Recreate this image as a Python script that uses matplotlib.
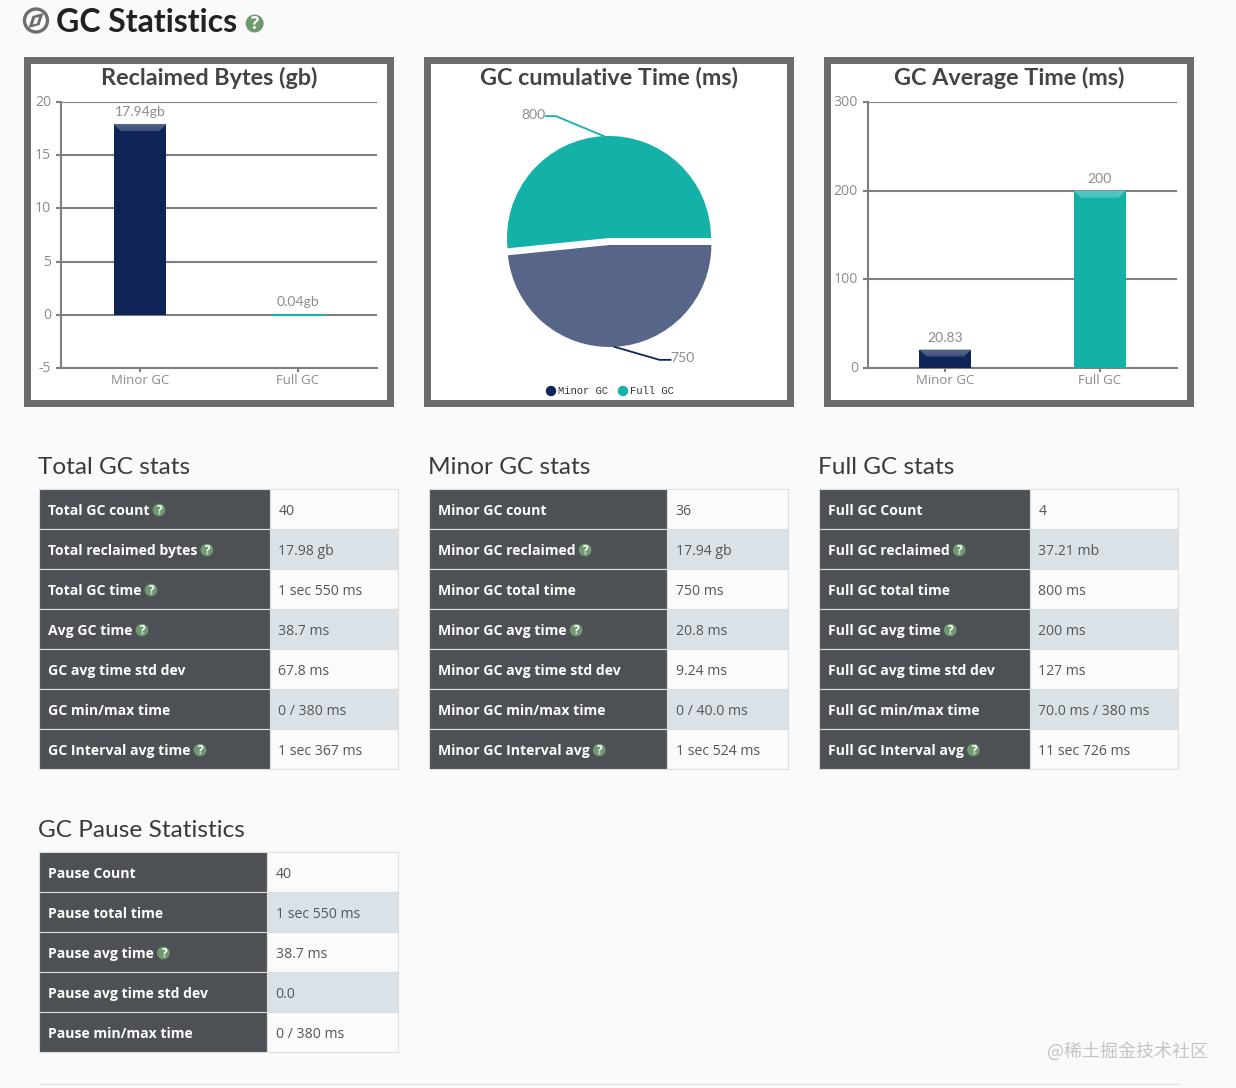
import matplotlib
matplotlib.use('Agg')
import matplotlib.pyplot as plt
from matplotlib.patches import Rectangle, Circle, Polygon
from matplotlib.transforms import ScaledTranslation
import numpy as np

plt.rcParams['axes.unicode_minus'] = False

W, H = 1236, 1088
BG = '#fafafa'
NAVY = '#0f2557'
TEAL = '#14b1a9'
SLATE = '#566588'
GRID = '#7f7f7f'
TICK_TXT = '#8a8a8a'
FRAME = '#6b6b6b'
DARK = '#4d5055'
BAND = '#dae2e8'
HELP = '#6f9a6f'

# bar charts
categories = ['Minor GC', 'Full GC']
reclaimed = [17.94, 0.04]
reclaimed_labels = ['17.94gb', '0.04gb']
reclaimed_ticks = [-5, 0, 5, 10, 15, 20]
avg_time = [20.83, 200]
avg_time_labels = ['20.83', '200']
avg_time_ticks = [0, 100, 200, 300]

# pie
pie_names = ['Full GC', 'Minor GC']
pie_values = [800, 750]

# tables
total_labels = ['Total GC count', 'Total reclaimed bytes', 'Total GC time', 'Avg GC time',
                'GC avg time std dev', 'GC min/max time', 'GC Interval avg time']
total_help = [1, 1, 1, 1, 0, 0, 1]
total_values = ['40', '17.98 gb', '1 sec 550 ms', '38.7 ms', '67.8 ms', '0 / 380 ms', '1 sec 367 ms']

minor_labels = ['Minor GC count', 'Minor GC reclaimed', 'Minor GC total time', 'Minor GC avg time',
                'Minor GC avg time std dev', 'Minor GC min/max time', 'Minor GC Interval avg']
minor_help = [0, 1, 0, 1, 0, 0, 1]
minor_values = ['36', '17.94 gb', '750 ms', '20.8 ms', '9.24 ms', '0 / 40.0 ms', '1 sec 524 ms']

full_labels = ['Full GC Count', 'Full GC reclaimed', 'Full GC total time', 'Full GC avg time',
               'Full GC avg time std dev', 'Full GC min/max time', 'Full GC Interval avg']
full_help = [0, 1, 0, 1, 0, 0, 1]
full_values = ['4', '37.21 mb', '800 ms', '200 ms', '127 ms', '70.0 ms / 380 ms', '11 sec 726 ms']

pause_labels = ['Pause Count', 'Pause total time', 'Pause avg time', 'Pause avg time std dev', 'Pause min/max time']
pause_help = [0, 0, 1, 0, 0]
pause_values = ['40', '1 sec 550 ms', '38.7 ms', '0.0', '0 / 380 ms']


def px(size):
    return size * 0.72


fig = plt.figure(figsize=(W / 100, H / 100), dpi=100, facecolor=BG)
renderer = fig.canvas.get_renderer()

# page layer in pixel coordinates
page = fig.add_axes([0, 0, 1, 1], zorder=0)
page.set_xlim(0, W)
page.set_ylim(H, 0)
page.axis('off')


def rect_axes(x0, y0, x1, y1):
    ax = fig.add_axes([x0 / W, 1 - y1 / H, (x1 - x0) / W, (y1 - y0) / H], zorder=1)
    ax.patch.set_alpha(0)
    return ax


def help_icon(x, y, r=6.3):
    page.add_patch(Circle((x, y), r, color=HELP, lw=0, zorder=5))
    page.text(x, y + 0.3, '?', color='white', fontsize=px(r * 1.9), fontweight='bold',
              family='Open Sans', ha='center', va='center', zorder=6)


def panel(x0, title, title_x):
    page.add_patch(Rectangle((x0, 57), 370, 350, fc=FRAME, lw=0))
    page.add_patch(Rectangle((x0 + 7, 64), 356, 336, fc='white', lw=0))
    page.text(title_x, 78, title, fontsize=px(23.4), fontweight='bold', family='Lato',
              color='#444444', ha='center', va='center')


def bevel(ax, bar, color):
    # light band at the top of a bar
    x0 = bar.get_x()
    x1 = x0 + bar.get_width()
    top = bar.get_height()
    if top <= 0:
        return
    to_px = ax.transData
    corner = to_px.transform((x0, top))
    inner = to_px.inverted().transform((corner[0] + 7, corner[1] - 7))
    d = inner[0] - x0
    yb = inner[1]
    if yb <= 0:
        return
    steps = 8
    base = np.array(matplotlib.colors.to_rgb(color))
    for i in range(steps):
        t0, t1 = i / steps, (i + 1) / steps
        c = base + (1 - base) * (0.38 - 0.16 * t0)
        ya, yc = top + (yb - top) * t0, top + (yb - top) * t1
        ax.add_patch(Polygon([(x0 + d * t0, ya), (x1 - d * t0, ya), (x1 - d * t1, yc), (x0 + d * t1, yc)],
                             fc=c, lw=0, zorder=4))


def bar_chart(rect, values, labels, ticks, colors):
    ax = rect_axes(*rect)
    pos = np.arange(len(values))
    bars = ax.bar(pos, values, width=0.335, color=colors, zorder=3)
    ax.set_xlim(-0.5, 1.5)
    ax.set_ylim(ticks[0], ticks[-1])
    ax.set_xticks(pos, categories)
    ax.set_yticks(ticks)
    ax.grid(axis='y', color=GRID, lw=1.5, zorder=1)
    ax.set_axisbelow(True)
    for s in ['top', 'right']:
        ax.spines[s].set_visible(False)
    for s in ['left', 'bottom']:
        ax.spines[s].set_color(GRID)
        ax.spines[s].set_linewidth(1.5)
    ax.tick_params(axis='y', length=px(5), width=1.5, color=GRID, labelcolor=TICK_TXT,
                   labelsize=px(14), pad=px(5))
    ax.tick_params(axis='x', length=px(4), width=1.5, color=GRID, labelcolor=TICK_TXT,
                   labelsize=px(13.3), pad=px(2))
    for t in ax.get_xticklabels() + ax.get_yticklabels():
        t.set_family('Open Sans')
    nudge = ScaledTranslation(0, 1.5 / 100, fig.dpi_scale_trans)
    for t in ax.get_yticklabels():
        t.set_transform(t.get_transform() + nudge)
    for bar, lab, col in zip(bars, labels, colors):
        if bar.get_height() < (ticks[-1] - ticks[0]) * 0.01:
            bar.set_edgecolor(col)
            bar.set_linewidth(0.8)
        else:
            bevel(ax, bar, col)
        ax.annotate(lab, (bar.get_x() + bar.get_width() / 2, bar.get_height()), xytext=(0, px(12)),
                    textcoords='offset points', ha='center', va='center', color='#8d8d8d',
                    fontsize=px(14), family='Lato', zorder=6)
    return ax


# page heading
page.add_patch(Circle((36, 20.5), 11.5, fc='none', ec='#6e6e6e', lw=2.4))
page.add_patch(Polygon([(43.5, 13), (39.5, 25), (28.5, 28), (32.5, 16)], fc='#6e6e6e', lw=0))
page.add_patch(Polygon([(39, 17), (37, 23.5), (33, 24.5), (35, 18)], fc=BG, lw=0))
t = page.text(56.5, 22, 'GC Statistics', fontsize=px(32), fontweight='bold', family='Lato',
              color='#222222', ha='left', va='center')
help_icon(t.get_window_extent(renderer).x1 + 17, 23.5, 9)

# chart panels
panel(24, 'Reclaimed Bytes (gb)', 209)
panel(424, 'GC cumulative Time (ms)', 609)
panel(824, 'GC Average Time (ms)', 1009)

bar_chart((61, 102, 377, 368), reclaimed, reclaimed_labels, reclaimed_ticks, [NAVY, TEAL])
bar_chart((868, 102, 1177, 368), avg_time, avg_time_labels, avg_time_ticks, [NAVY, TEAL])

# pie, 1 data unit = 102 px
R = 102.0
cx, cy = 609.0, 238.0
pie_ax = rect_axes(431, 64, 787, 400)
wedges, _ = pie_ax.pie(pie_values, colors=[TEAL, SLATE], startangle=0, counterclock=True,
                       explode=[0, 7 / R], radius=1)
pie_ax.set_xlim((431 - cx) / R, (787 - cx) / R)
pie_ax.set_ylim((cy - 400) / R, (cy - 64) / R)

leaders = [((-48, 20), -10, TEAL, 'right'), ((45, -13), 11, NAVY, 'left')]
for w, val, (elbow, tail, col, ha) in zip(wedges, pie_values, leaders):
    mid = np.deg2rad((w.theta1 + w.theta2) / 2)
    p0 = np.array(w.center) + np.array([np.cos(mid), np.sin(mid)]) * w.r
    p1 = p0 + np.array(elbow) / R
    p2 = p1 + np.array([tail, 0]) / R
    pie_ax.plot([p0[0], p1[0], p2[0]], [p0[1], p1[1], p2[1]], color=col, lw=1.3, clip_on=False)
    pie_ax.text(p2[0], p2[1] + 1.5 / R, str(val), ha=ha, va='center', color='#8d8d8d',
                fontsize=px(14), family='Lato')

for x, name, col in zip([551, 623], ['Minor GC', 'Full GC'], [NAVY, TEAL]):
    page.add_patch(Circle((x, 391), 5.2, color=col, lw=0, zorder=3))
    page.text(x + 7.5, 391.5, name, fontsize=px(10.5), family='Liberation Mono', color='#333333',
              ha='left', va='center', zorder=3)


def stats_table(x0, x_split, x1, y0, heading, labels, helps, values):
    page.text(x0 - 0.5, y0 - 15, heading, fontsize=px(24.4), family='Lato',
              color='#3a3a3a', ha='left', va='baseline')
    row_h = 40
    for i, (lab, has_help, val) in enumerate(zip(labels, helps, values)):
        y = y0 + i * row_h
        fill = BAND if i % 2 else '#fbfbfb'
        page.add_patch(Rectangle((x0, y), x_split - x0, row_h, fc=DARK, ec='#dddddd', lw=0.8))
        page.add_patch(Rectangle((x_split, y), x1 - x_split, row_h, fc=fill, ec='#dddddd', lw=0.8))
        t = page.text(x0 + 8.5, y + 26, lab, color='white', fontsize=px(14), fontweight='bold',
                      family='Open Sans', ha='left', va='baseline', zorder=4)
        if has_help:
            help_icon(t.get_window_extent(renderer).x1 + 10, y + 21)
        page.text(x_split + 8.5, y + 26, val, color='#555555', fontsize=px(14),
                  family='Open Sans', ha='left', va='baseline', zorder=4)


stats_table(39, 270, 398, 489, 'Total GC stats', total_labels, total_help, total_values)
stats_table(429, 667, 788, 489, 'Minor GC stats', minor_labels, minor_help, minor_values)
stats_table(819, 1030, 1178, 489, 'Full GC stats', full_labels, full_help, full_values)
stats_table(39, 267, 398, 852, 'GC Pause Statistics', pause_labels, pause_help, pause_values)

page.plot([39, 1179], [1083.5, 1083.5], color='#dddddd', lw=0.8)
page.text(1208, 1051, '@稀土掘金技术社区', fontsize=px(18), color='#c4c4c4', ha='right', va='center',
          family=['Noto Sans CJK SC', 'DejaVu Sans'], zorder=7)

page.set_xlim(0, W)
page.set_ylim(H, 0)
fig.savefig('out.png', dpi=100, facecolor=BG)
